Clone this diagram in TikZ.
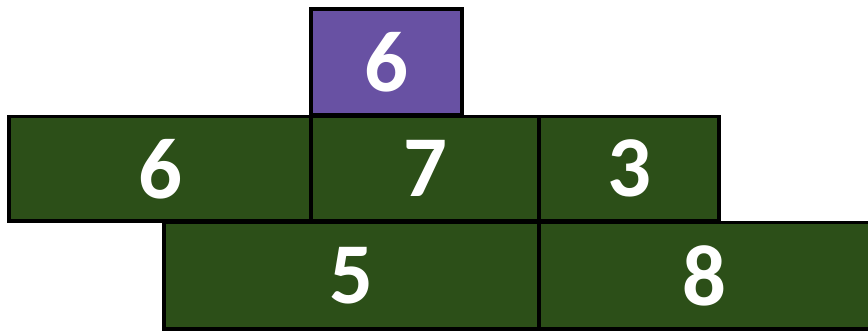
\documentclass[tikz,border=0pt]{standalone}
\usepackage{fontspec}
\setmainfont{Carlito}
\definecolor{grn}{HTML}{2C4F18}
\definecolor{prp}{HTML}{6851A3}
\newcommand{\dg}[1]{\raisebox{-2pt}{#1}}
\begin{document}
\begin{tikzpicture}[x=0.75pt,y=-0.75pt,
  cell/.style={draw=black,line width=2.9pt,inner sep=0pt,text=white,
    font=\bfseries\fontsize{65}{70}\selectfont,anchor=center}]
\useasboundingbox (0,0) rectangle (868,331);
\begin{scope}
\clip (0,0) rectangle (868,331);
\node[cell,fill=grn,minimum width=302*0.75pt,minimum height=104.5*0.75pt] (a) at (160,168.75) {\dg{6}};
\node[cell,fill=grn,minimum width=228*0.75pt,minimum height=104.5*0.75pt] (b) at (425,168.75) {\dg{7}};
\node[cell,fill=grn,minimum width=180*0.75pt,minimum height=104.5*0.75pt] (c) at (629,168.75) {\dg{3}};
\node[cell,fill=grn,minimum width=375*0.75pt,minimum height=106.5*0.75pt] (d) at (351.5,275.75) {\dg{5}};
\node[cell,fill=grn,minimum width=331*0.75pt,minimum height=106.5*0.75pt] (e) at (704.5,275.75) {\dg{8}};
\node[cell,fill=prp,minimum width=151*0.75pt,minimum height=105.5*0.75pt] (p) at (386.5,61.75) {\dg{6}};
\end{scope}
\end{tikzpicture}
\end{document}
